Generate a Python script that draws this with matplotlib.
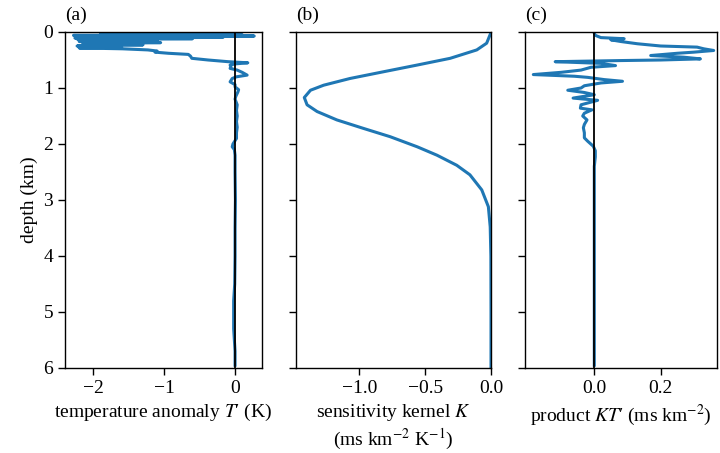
import matplotlib
matplotlib.use("Agg")
import matplotlib.pyplot as plt
import numpy as np

# ---------------- data ----------------
# (a) temperature anomaly T' (K) vs depth (km)
depth_T = [0.000, 0.012, 0.024, 0.036, 0.048, 0.060, 0.072, 0.084, 0.096, 0.108,
           0.120, 0.135, 0.150, 0.170, 0.190, 0.210, 0.230, 0.250, 0.270, 0.285,
           0.300, 0.320, 0.340, 0.360, 0.380,
           0.400, 0.430, 0.470, 0.500, 0.530, 0.550, 0.570, 0.590, 0.620, 0.650,
           0.680, 0.720, 0.770, 0.800, 0.830, 0.890, 0.940, 0.980, 1.030, 1.070,
           1.150, 1.200, 1.300, 1.400, 1.500, 1.600, 1.700, 1.800, 1.900, 2.000,
           2.050, 2.100, 2.200, 2.500, 3.000, 3.500, 4.000, 4.500, 4.800, 5.000,
           5.300, 5.500, 5.700, 5.950]
T_anom = [0.00, -1.62, -0.20, -1.90, 0.10, -2.28, 0.27, -2.20, -0.17, -2.26,
          -0.60, -2.22, -1.10, -2.20, -1.05, -2.15, -1.30, -2.23, -1.60, -2.20,
          -1.59, -1.23, -1.10, -1.13, -0.94,
          -0.66, -0.63, -0.61, -0.38, -0.10, 0.18, 0.00, -0.07, -0.06, -0.07,
          0.03, 0.10, 0.17, 0.02, -0.04, -0.07, 0.00, 0.00, 0.05, 0.04,
          0.01, 0.00, 0.03, 0.02, 0.03, 0.02, 0.03, 0.02, 0.02, -0.03,
          -0.04, -0.01, 0.00, 0.00, 0.005, 0.00, 0.00, -0.005, -0.02, -0.02,
          -0.02, -0.01, 0.00, 0.00]

# (b) sensitivity kernel K (ms km^-2 K^-1) vs depth (km)
depth_K = [0.00, 0.02, 0.20, 0.32, 0.47, 0.59, 0.71, 0.83, 0.95, 1.04,
           1.17, 1.30, 1.42, 1.57, 1.72, 1.87, 2.05, 2.20, 2.38, 2.55,
           2.82, 3.12, 3.48, 4.00, 5.00, 6.00]
K_vals = [0.000, -0.002, -0.033, -0.108, -0.310, -0.560, -0.816, -1.070, -1.270, -1.370,
          -1.417, -1.396, -1.320, -1.170, -0.970, -0.765, -0.560, -0.410, -0.260, -0.160,
          -0.070, -0.020, -0.006, -0.001, 0.000, 0.000]

# (c) product K T' (ms km^-2) vs depth (km)
depth_P = [0.02, 0.06, 0.10, 0.12, 0.14, 0.17, 0.21, 0.25, 0.27, 0.30,
           0.33, 0.36, 0.38, 0.42, 0.45, 0.48, 0.50, 0.51, 0.53, 0.56,
           0.60, 0.63, 0.68, 0.72, 0.76, 0.79, 0.81, 0.85, 0.88, 0.91,
           0.96, 1.00, 1.04, 1.08, 1.12, 1.18, 1.22, 1.30, 1.36, 1.39,
           1.45, 1.50, 1.57, 1.65, 1.71, 1.80, 1.89, 1.95, 2.04, 2.12,
           2.23, 2.40, 3.00, 4.00, 5.00, 5.95]
P_vals = [0.000, 0.003, 0.020, 0.090, 0.050, 0.080, 0.130, 0.200, 0.310, 0.330,
          0.360, 0.300, 0.250, 0.170, 0.270, 0.320, 0.200, 0.080, -0.118, 0.020,
          0.064, -0.010, -0.040, -0.100, -0.184, -0.060, -0.020, 0.030, 0.085, 0.020,
          -0.030, -0.040, -0.080, -0.030, 0.000, -0.064, 0.010, -0.040, -0.042, -0.007,
          -0.030, -0.035, -0.022, -0.030, -0.033, -0.030, -0.030, -0.020, -0.003, 0.003,
          0.003, 0.000, 0.000, 0.000, 0.000, 0.000]

depth_ticks = [0, 1, 2, 3, 4, 5, 6]
a_ticks = [-2, -1, 0]
b_ticks = [-1.0, -0.5, 0.0]
c_ticks = [0.0, 0.2]

# ---------------- style ----------------
plt.rcParams['font.family'] = ['Liberation Serif', 'DejaVu Serif']
plt.rcParams['mathtext.fontset'] = 'stix'
plt.rcParams['font.size'] = 14

W, H = 720, 453
fig = plt.figure(figsize=(W / 100, H / 100), dpi=100)

bottom = (H - 368) / H
height = (368 - 32) / H
lefts = [65, 296, 525]
widths = [197, 195, 192]
axes = [fig.add_axes([l / W, bottom, w / W, height]) for l, w in zip(lefts, widths)]
ax_a, ax_b, ax_c = axes

color = '#1f77b4'
lw = 2.2

ax_a.plot(T_anom, depth_T, color=color, lw=lw)
ax_a.axvline(0, color='black', lw=1.3)
ax_a.set_xlim(-2.40, 0.38)
ax_a.set_xticks(a_ticks)
ax_a.set_xlabel("temperature anomaly $T$\u2032 (K)")
ax_a.set_ylabel("depth (km)")

ax_b.plot(K_vals, depth_K, color=color, lw=lw)
ax_b.set_xlim(-1.48, 0.0)
ax_b.set_xticks(b_ticks)
ax_b.set_xlabel("sensitivity kernel $K$\n(ms km$^{-2}$ K$^{-1}$)")

ax_c.plot(P_vals, depth_P, color=color, lw=lw)
ax_c.axvline(0, color='black', lw=1.3)
ax_c.set_xlim(-0.209, 0.37)
ax_c.set_xticks(c_ticks)
ax_c.set_xlabel("product $KT$\u2032 (ms km$^{-2}$)")

for i, (ax, lab) in enumerate(zip(axes, ['(a)', '(b)', '(c)'])):
    ax.set_ylim(6, 0)
    ax.set_yticks(depth_ticks)
    if i > 0:
        ax.set_yticklabels([])
    ax.set_title(lab, loc='left', fontsize=14, pad=9)
    ax.tick_params(direction='out', length=5, width=1)
    for s in ax.spines.values():
        s.set_linewidth(1.0)

fig.savefig("out.png", dpi=100)
